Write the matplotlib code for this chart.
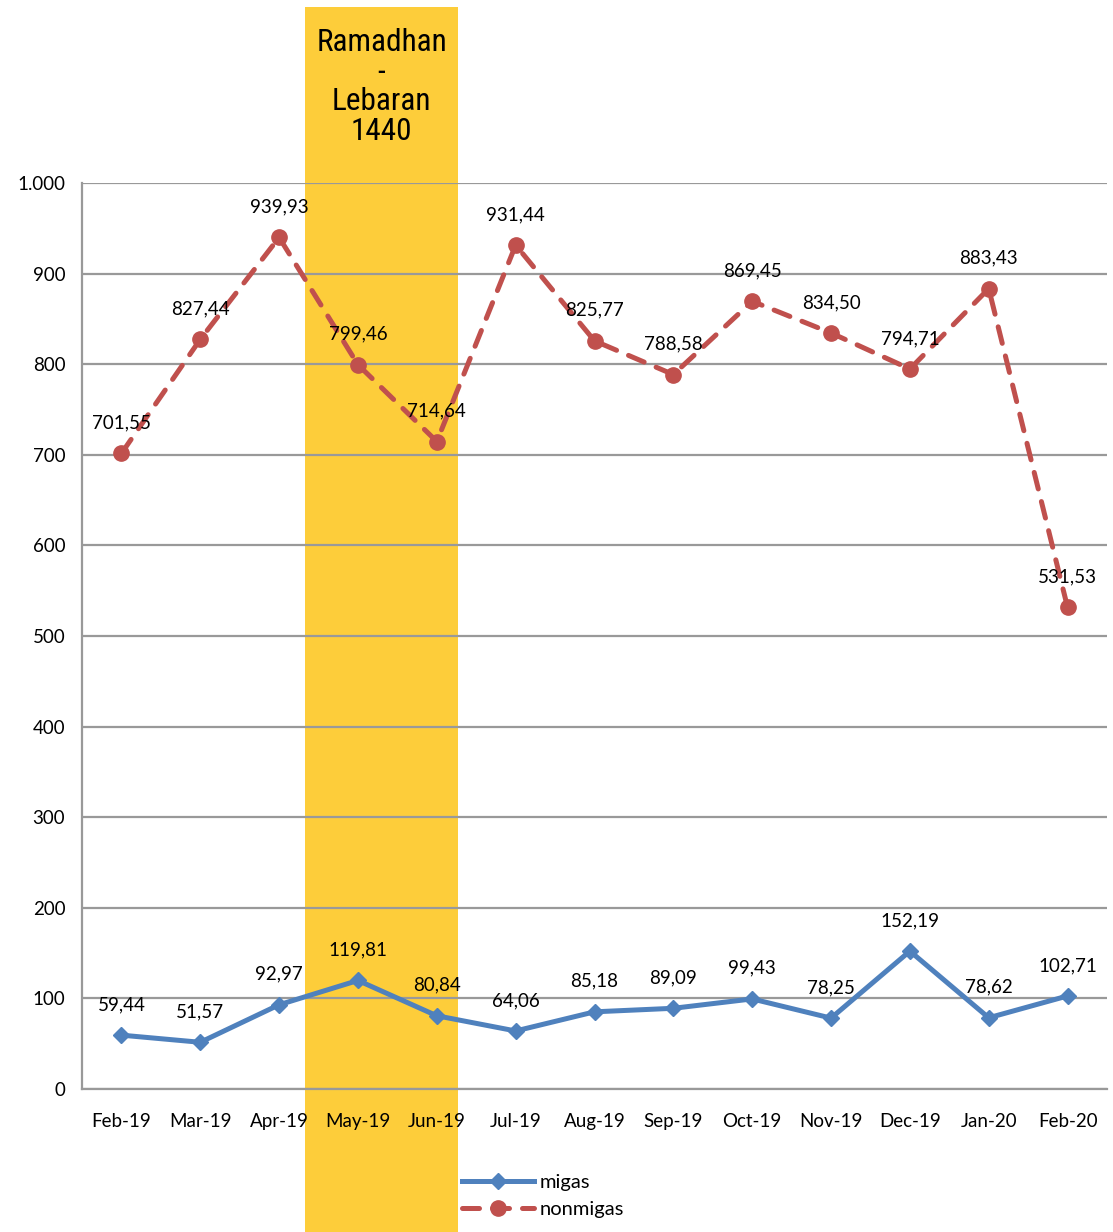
import matplotlib
matplotlib.use("Agg")
import matplotlib.pyplot as plt
from matplotlib import font_manager
from matplotlib.transforms import blended_transform_factory
from matplotlib.patches import Rectangle

months = ["Feb-19", "Mar-19", "Apr-19", "May-19", "Jun-19", "Jul-19", "Aug-19",
          "Sep-19", "Oct-19", "Nov-19", "Dec-19", "Jan-20", "Feb-20"]
migas = [59.44, 51.57, 92.97, 119.81, 80.84, 64.06, 85.18, 89.09, 99.43, 78.25, 152.19, 78.62, 102.71]
nonmigas = [701.55, 827.44, 939.93, 799.46, 714.64, 931.44, 825.77, 788.58, 869.45, 834.50, 794.71, 883.43, 531.53]
yticks = [0, 100, 200, 300, 400, 500, 600, 700, 800, 900, 1000]
ytick_labels = ["0", "100", "200", "300", "400", "500", "600", "700", "800", "900", "1.000"]
band_text = "Ramadhan\n-\nLebaran\n1440"

names = {f.name for f in font_manager.fontManager.ttflist}
base_font = "Lato" if "Lato" in names else "DejaVu Sans"
narrow_font, narrow_size = "Liberation Sans", 19.5
for cand in ["Liberation Sans Narrow", "Arial Narrow", "Roboto Condensed"]:
    if cand in names:
        narrow_font, narrow_size = cand, 22.5
        break
plt.rcParams['font.family'] = [base_font, "DejaVu Sans"]

def fmt(v):
    return f"{v:.2f}".replace(".", ",")

fig = plt.figure(figsize=(11.13, 12.32), dpi=100)
ax = fig.add_axes([82/1113, 1-1089/1232, (1107-82)/1113, (1089-183)/1232])

x = list(range(len(months)))
ax.set_xlim(-0.5, len(months) - 0.5)
ax.set_ylim(0, 1000)

# Ramadhan band spanning the full figure height
trans = blended_transform_factory(ax.transData, fig.transFigure)
band = Rectangle((2.33, 0), 4.27 - 2.33, 1 - 7/1232, transform=trans,
                 facecolor="#FDCD3A", edgecolor="none", zorder=0, clip_on=False)
fig.add_artist(band)
ax.set_facecolor("none")
ax.text((2.33 + 4.27)/2, 1 - 87/1232, band_text, transform=trans, ha="center", va="center",
        fontsize=narrow_size, family=[narrow_font, "DejaVu Sans"], linespacing=1.04,
        color="black", zorder=1)

ax.set_yticks(yticks)
ax.set_yticklabels(ytick_labels, fontsize=13.5)
ax.set_xticks(x)
ax.set_xticklabels(months, fontsize=13.5)
ax.tick_params(length=0, pad=12)
ax.tick_params(axis="x", pad=17)
ax.grid(axis="y", color="#999999", linewidth=1.6, zorder=1)
ax.set_axisbelow(False)
for s in ["top", "right"]:
    ax.spines[s].set_visible(False)
for s in ["left", "bottom"]:
    ax.spines[s].set_color("#999999")
    ax.spines[s].set_linewidth(1.6)

l1, = ax.plot(x, migas, color="#4F81BD", linewidth=3.6, marker="D", markersize=8,
              label="migas", zorder=3)
l2, = ax.plot(x, nonmigas, color="#C0504D", linewidth=3.6, linestyle=(0, (3.4, 2.6)),
              dash_capstyle="round", marker="o", markersize=11, label="nonmigas", zorder=3)

for xi, v in zip(x, migas):
    ax.annotate(fmt(v), (xi, v), xytext=(0, 22), textcoords="offset points",
                ha="center", va="center", fontsize=13.5, zorder=4)
for xi, v in zip(x, nonmigas):
    ax.annotate(fmt(v), (xi, v), xytext=(0, 22), textcoords="offset points",
                ha="center", va="center", fontsize=13.5, zorder=4)

fig.legend(handles=[l1, l2], loc="center", bbox_to_anchor=(543/1113, 1 - 1196/1232),
           frameon=False, fontsize=14.5, handlelength=3.6, labelspacing=0.45, handletextpad=0.3)

fig.savefig("out.png", dpi=100)
